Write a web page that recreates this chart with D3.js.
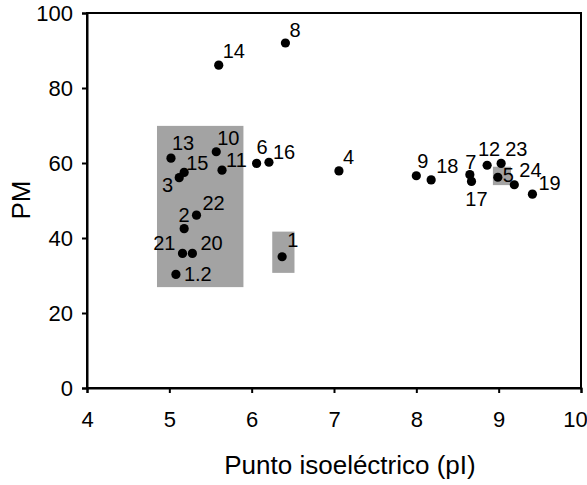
<!DOCTYPE html>
<html>
<head>
<meta charset="utf-8">
<script src="https://cdn.jsdelivr.net/npm/d3@7"></script>
<style>
  body{margin:0;background:#fff;}
  text{font-family:"Liberation Sans",Arial,sans-serif;fill:#000;}
</style>
</head>
<body>
<svg id="chart" width="587" height="485"></svg>
<script>
// datos
var proteins = ["1","1.2","2","3","4","5","6","7","8","9","10","11","12","13","14","15","16","17","18","19","20","21","22","23","24"];
var pI = [6.37,5.08,5.18,5.12,7.06,8.99,6.06,8.65,6.41,8.00,5.57,5.64,8.86,5.02,5.60,5.18,6.21,8.67,8.18,9.41,5.28,5.16,5.33,9.03,9.19];
var pm = [35.0,30.3,42.5,56.1,57.9,56.2,59.9,56.9,92.0,56.6,63.0,58.1,59.4,61.3,86.1,57.5,60.2,55.1,55.5,51.7,35.9,35.9,46.1,59.9,54.2];

// zonas sombreadas [pI min, pI max, PM min, PM max]
var zones = [
  [4.85,5.90,26.9,69.9],
  [6.25,6.52,30.7,41.7],
  [8.93,9.15,54.1,59.0]
];

var xTicks = [4,5,6,7,8,9,10];
var yTicks = [0,20,40,60,80,100];

// donde va cada etiqueta respecto al punto: [dx, dy, anchor]
var labelPos = {
  "1":[5,-10,"start"], "1.2":[8,7,"start"], "2":[0,-7,"middle"], "3":[-6,14,"end"],
  "4":[4,-7,"start"], "5":[5,5,"start"], "6":[0,-9,"start"], "7":[1,-6,"middle"],
  "8":[4,-6,"start"], "9":[1,-8,"start"], "10":[1,-7,"start"], "11":[4,-3,"start"],
  "12":[2,-9,"middle"], "13":[1,-8,"start"], "14":[4,-7,"start"], "15":[2,-2,"start"],
  "16":[4,-3,"start"], "17":[5,25,"middle"], "18":[5,-7,"start"], "19":[6,-4,"start"],
  "20":[8,-3,"start"], "21":[-7,-3,"end"], "22":[6,-5,"start"], "23":[4,-7,"start"],
  "24":[5,-8,"start"]
};

+function(){
  var svg = d3.select("#chart"),
      mLeft = 87, mRight = 581, mTop = 13, mBottom = 388;

  var x = d3.scaleLinear().domain([4,10]).range([mLeft,mRight]);
  var y = d3.scaleLinear().domain([0,100]).range([mBottom,mTop]);

  // zonas grises
  svg.selectAll(".zone").data(zones).enter().append("rect")
    .attr("class","zone")
    .attr("x",function(d){ return x(d[0]); })
    .attr("width",function(d){ return x(d[1])-x(d[0]); })
    .attr("y",function(d){ return y(d[3]); })
    .attr("height",function(d){ return y(d[2])-y(d[3]); })
    .attr("fill","#a3a3a3");

  // marco
  svg.append("rect")
    .attr("x",mLeft).attr("y",mTop)
    .attr("width",mRight-mLeft).attr("height",mBottom-mTop)
    .attr("fill","none").attr("stroke","#000").attr("stroke-width",2);

  // ejes
  var xAxis = d3.axisBottom(x).tickValues(xTicks).tickSize(5).tickPadding(18).tickFormat(d3.format("d"));
  var yAxis = d3.axisLeft(y).tickValues(yTicks).tickSize(5).tickPadding(9).tickFormat(d3.format("d"));

  var gx = svg.append("g").attr("transform","translate(0,"+mBottom+")").call(xAxis);
  var gy = svg.append("g").attr("transform","translate("+mLeft+",0)").call(yAxis);
  [gx,gy].forEach(function(g){
    g.attr("font-size",null).attr("font-family",null);
    g.select(".domain").attr("stroke","#000").attr("stroke-width",2);
    g.selectAll(".tick line").attr("stroke","#000").attr("stroke-width",2);
    g.selectAll(".tick text").style("font-size","22px").attr("fill","#000");
  });
  gx.selectAll(".tick text").filter(function(d){ return d===10; }).attr("dx",-6);

  // puntos
  var idx = d3.range(proteins.length);
  svg.selectAll(".dot").data(idx).enter().append("circle")
    .attr("class","dot")
    .attr("cx",function(i){ return x(pI[i]); })
    .attr("cy",function(i){ return y(pm[i]); })
    .attr("r",4.6)
    .attr("fill","#000");

  svg.selectAll(".lbl").data(idx).enter().append("text")
    .attr("class","lbl")
    .attr("x",function(i){ return x(pI[i])+labelPos[proteins[i]][0]; })
    .attr("y",function(i){ return y(pm[i])+labelPos[proteins[i]][1]; })
    .attr("text-anchor",function(i){ return labelPos[proteins[i]][2]; })
    .style("font-family","'Liberation Sans Narrow','Arial Narrow','Liberation Sans',sans-serif")
    .style("font-size","20px")
    .text(function(i){ return proteins[i]; });

  // titulos
  svg.append("text")
    .attr("x",350).attr("y",474)
    .attr("text-anchor","middle")
    .style("font-size","26px")
    .text("Punto isoeléctrico (pI)");

  svg.append("text")
    .attr("transform","translate(30,200) rotate(-90)")
    .attr("text-anchor","middle")
    .style("font-size","26px")
    .text("PM");
}();
</script>
</body>
</html>
